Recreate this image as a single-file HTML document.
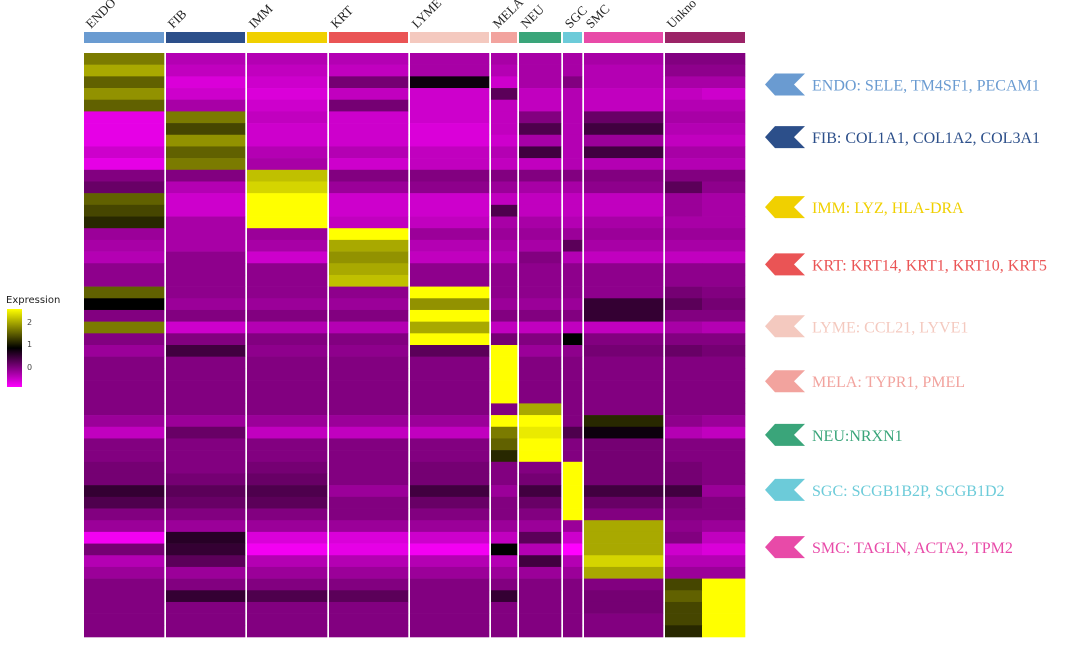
<!DOCTYPE html>
<html><head><meta charset="utf-8"><style>
html,body{margin:0;padding:0;background:#fff;}
body{width:1080px;height:651px;overflow:hidden;}
svg{display:block;}
</style></head><body>
<svg id="chart" width="1080" height="651" viewBox="0 0 1080 651" xmlns="http://www.w3.org/2000/svg">
<defs>
<linearGradient id="lg" x1="0" y1="1" x2="0" y2="0">
<stop offset="0" stop-color="#ff00ff"/><stop offset="0.5" stop-color="#000000"/><stop offset="1" stop-color="#ffff00"/>
</linearGradient>
</defs>
<g id="legend">
<text x="6" y="303" font-family="DejaVu Sans, sans-serif" font-size="10" fill="#222">Expression</text>
<rect x="7" y="309" width="15" height="78" fill="url(#lg)"/>
<text x="27" y="325" font-family="DejaVu Sans, sans-serif" font-size="8" fill="#444">2</text>
<text x="27" y="347" font-family="DejaVu Sans, sans-serif" font-size="8" fill="#444">1</text>
<text x="27" y="370" font-family="DejaVu Sans, sans-serif" font-size="8" fill="#444">0</text>
</g>
<g id="cells"></g>
<g id="bars"></g>
<g id="markers"></g>
</svg>
<script>
const groups = ["ENDO","FIB","IMM","KRT","LYME","MELA","NEU","SGC","SMC","Unknown"];
const groupLabels = ["ENDO","FIB","IMM","KRT","LYME","MELA","NEU","SGC","SMC","Unkno"];
const groupColors = ["#6a9bd1","#2c4f8a","#f0d000","#ea5455","#f4c9bf","#f2a39e","#3aa57a","#6ccbd9","#e84aa8","#9b2367"];
const subParent = [0,1,2,3,4,5,6,7,8,9,9];
const subCells = [80,79,80,79,79,26,42,19,79,37,43];
const markerText = ["ENDO: SELE, TM4SF1, PECAM1","FIB: COL1A1, COL1A2, COL3A1","IMM: LYZ, HLA-DRA","KRT: KRT14, KRT1, KRT10, KRT5","LYME: CCL21, LYVE1","MELA: TYPR1, PMEL","NEU:NRXN1","SGC: SCGB1B2P, SCGB1D2","SMC: TAGLN, ACTA2, TPM2"];
const markerRowCenter = [2.7,7.2,13.2,18.1,23.4,28.1,32.7,37.4,42.3];
const rowValues = [
[1.4,-0.4,-0.4,-0.4,-0.3,-0.3,-0.3,-0.3,-0.3,0.0,0.0],
[1.6,-0.5,-0.5,-0.5,-0.3,-0.4,-0.3,-0.3,-0.4,-0.1,-0.1],
[1.3,-0.7,-0.6,0.1,0.9,-0.6,-0.3,0.0,-0.4,-0.3,-0.3],
[1.5,-0.6,-0.7,-0.5,-0.6,0.3,-0.5,-0.4,-0.5,-0.5,-0.6],
[1.3,-0.3,-0.6,0.1,-0.6,-0.5,-0.5,-0.4,-0.5,-0.4,-0.4],
[-0.8,1.4,-0.5,-0.6,-0.6,-0.5,0.0,-0.4,0.2,-0.3,-0.3],
[-0.8,1.2,-0.6,-0.6,-0.7,-0.5,0.4,-0.4,0.5,-0.4,-0.4],
[-0.8,1.5,-0.6,-0.6,-0.7,-0.6,-0.3,-0.4,-0.2,-0.5,-0.5],
[-0.6,1.3,-0.4,-0.4,-0.5,-0.4,0.5,-0.4,0.5,-0.3,-0.3],
[-0.8,1.4,-0.3,-0.6,-0.5,-0.5,-0.5,-0.4,-0.4,-0.4,-0.4],
[0.0,0.0,1.7,0.0,0.0,0.0,0.0,0.0,0.0,0.0,0.0],
[0.2,-0.4,1.8,-0.2,-0.1,-0.2,-0.3,-0.3,-0.1,0.3,-0.1],
[1.3,-0.6,2.0,-0.6,-0.6,-0.5,-0.5,-0.5,-0.5,-0.2,-0.3],
[1.2,-0.6,2.0,-0.6,-0.6,0.4,-0.5,-0.5,-0.5,-0.2,-0.3],
[1.1,-0.3,2.0,-0.5,-0.5,-0.3,-0.3,-0.4,-0.3,-0.3,-0.3],
[-0.2,-0.3,-0.2,2.0,-0.2,-0.2,-0.2,-0.2,-0.2,-0.2,-0.2],
[-0.3,-0.3,-0.3,1.6,-0.4,-0.3,-0.3,0.3,-0.3,-0.3,-0.3],
[-0.4,-0.1,-0.6,1.5,-0.5,-0.4,0.0,-0.4,-0.5,-0.5,-0.5],
[-0.1,-0.1,-0.1,1.6,-0.1,-0.1,-0.1,-0.1,-0.1,-0.1,-0.1],
[-0.1,-0.1,-0.1,1.7,-0.1,-0.1,-0.1,-0.1,-0.1,-0.1,-0.1],
[1.3,-0.1,-0.1,-0.1,2.2,-0.1,-0.1,-0.1,-0.1,0.1,0.0],
[1.0,-0.2,-0.2,-0.2,1.5,-0.2,-0.2,-0.2,0.6,0.3,0.1],
[0.0,0.0,0.0,0.0,2.2,0.0,0.0,0.0,0.6,0.0,0.0],
[1.4,-0.6,-0.4,-0.4,1.6,-0.5,-0.5,-0.5,-0.5,-0.3,-0.4],
[0.0,0.0,0.0,0.0,2.2,0.1,0.0,1.0,0.0,0.0,0.0],
[-0.2,0.5,-0.1,-0.1,0.3,2.3,-0.2,-0.1,0.1,0.2,0.1],
[0.0,0.0,0.0,0.0,0.0,2.3,0.0,0.0,0.0,0.0,0.0],
[0.0,0.0,0.0,0.0,0.0,2.3,0.0,0.0,0.0,0.0,0.0],
[0.0,0.0,0.0,0.0,0.0,2.3,0.0,0.0,0.0,0.0,0.0],
[0.0,0.0,0.0,0.0,0.0,2.3,0.0,0.0,0.0,0.0,0.0],
[0.0,0.0,0.0,0.0,0.0,0.0,1.6,0.0,0.0,0.0,0.0],
[-0.2,-0.2,-0.2,-0.2,-0.2,2.2,2.2,0.0,1.1,-0.1,-0.2],
[-0.5,0.2,-0.5,-0.5,-0.5,1.4,1.9,0.4,0.9,-0.4,-0.5],
[0.0,0.0,0.0,0.0,0.0,1.3,2.0,0.0,0.1,0.0,0.0],
[0.0,0.0,0.0,0.0,0.0,1.1,2.0,0.0,0.1,0.0,0.0],
[0.1,0.0,0.1,0.0,0.1,0.0,0.0,2.3,0.1,0.1,0.0],
[0.1,0.1,0.2,0.0,0.1,0.0,0.1,2.3,0.1,0.1,0.0],
[0.6,0.3,0.4,-0.2,0.5,-0.2,0.5,2.3,0.5,0.5,-0.2],
[0.4,0.2,0.3,0.0,0.2,0.0,0.2,2.3,0.2,0.1,0.0],
[0.0,0.0,0.0,0.0,0.0,0.0,0.0,2.3,0.0,0.0,0.0],
[-0.2,-0.2,-0.2,-0.2,-0.2,-0.2,-0.2,-0.2,1.6,-0.1,-0.2],
[-0.9,0.7,-0.7,-0.7,-0.6,-0.5,0.3,-0.6,1.6,0.0,-0.5],
[0.1,0.6,-0.9,-0.8,-0.9,1.0,-0.4,-1.0,1.6,-0.6,-0.7],
[-0.4,0.3,-0.4,-0.4,-0.4,-0.4,0.5,-0.4,1.8,-0.4,-0.4],
[-0.2,-0.2,-0.2,-0.2,-0.2,-0.2,-0.2,-0.2,1.6,-0.2,-0.2],
[0.0,0.0,0.0,0.0,0.0,0.0,0.0,0.0,0.0,1.2,2.1],
[0.0,0.6,0.4,0.3,0.0,0.6,0.0,0.0,0.1,1.3,2.2],
[0.0,0.0,0.0,0.0,0.0,0.0,0.0,0.0,0.1,1.2,2.2],
[0.0,0.0,0.0,0.0,0.0,0.0,0.0,0.0,0.0,1.2,2.2],
[0.0,0.0,0.0,0.0,0.0,0.0,0.0,0.0,0.0,1.1,2.2]
];

const NS="http://www.w3.org/2000/svg";
const X0=84, X1=745, GAP=2, Y0=53, Y1=637;
const nGroups=groups.length;
const totalCells=subCells.reduce((a,b)=>a+b,0);
const pxPerCell=(X1-X0-GAP*(nGroups-1))/totalCells;
function subX(i){let x=X0;for(let k=0;k<i;k++){x+=subCells[k]*pxPerCell;if(subParent[k+1]!==subParent[k])x+=GAP;}return x;}
function subW(i){return subCells[i]*pxPerCell;}
function groupX(g){let i=subParent.indexOf(g);return subX(i);}
function groupEnd(g){let i=subParent.lastIndexOf(g);return subX(i)+subW(i);}
const rowH=(Y1-Y0)/rowValues.length;
function rowY(r){return Y0+r*rowH;}
function color(v){
  let r,g,b;
  if(v<=1){let t=Math.max(0,Math.min(1,(v+1)/2));r=255*(1-t)+8*t*(1-t);g=0;b=255*(1-t);}
  else{let t=Math.min(1,(v-1)/1.0);t=Math.pow(t,0.8);r=255*t;g=255*t;b=0;}
  return `rgb(${Math.round(Math.min(255,r))},${Math.round(g)},${Math.round(b)})`;
}
const cells=document.getElementById('cells');
rowValues.forEach((row,r)=>{
  row.forEach((v,c)=>{
    const el=document.createElementNS(NS,'rect');
    el.setAttribute('x',subX(c).toFixed(2));
    el.setAttribute('y',rowY(r).toFixed(2));
    el.setAttribute('width',(subW(c)+0.3).toFixed(2));
    el.setAttribute('height',(rowH+0.3).toFixed(2));
    el.setAttribute('fill',color(v));
    
    
    cells.appendChild(el);
  });
});
const bars=document.getElementById('bars');
groups.forEach((g,i)=>{
  const x=groupX(i), w=groupEnd(i)-x;
  const el=document.createElementNS(NS,'rect');
  el.setAttribute('x',x);el.setAttribute('y',32);el.setAttribute('width',w);el.setAttribute('height',11);
  el.setAttribute('fill',groupColors[i]);
  
  
  bars.appendChild(el);
  const t=document.createElementNS(NS,'text');
  const tx=x+7, ty=29;
  t.setAttribute('x',tx);t.setAttribute('y',ty);
  t.setAttribute('transform',`rotate(-45 ${tx} ${ty})`);
  t.setAttribute('font-family','Liberation Serif, serif');
  t.setAttribute('font-size','13');t.setAttribute('fill','#222');
  t.textContent=groupLabels[i];
  
  
  bars.appendChild(t);
});
const markers=document.getElementById('markers');
markerText.forEach((m,i)=>{
  const cy=rowY(markerRowCenter[i]);
  const p=document.createElementNS(NS,'polygon');
  p.setAttribute('points',`765,${cy} 775,${cy-11} 805,${cy-11} 794,${cy} 805,${cy+11} 775,${cy+11}`);
  p.setAttribute('fill',groupColors[i]);
  
  
  markers.appendChild(p);
  const t=document.createElementNS(NS,'text');
  t.setAttribute('x',812);t.setAttribute('y',cy+6);
  t.setAttribute('font-family','Liberation Serif, serif');
  t.setAttribute('font-size','16');
  t.setAttribute('fill',groupColors[i]);
  t.textContent=m;
  
  
  markers.appendChild(t);
});
</script>
</body></html>
